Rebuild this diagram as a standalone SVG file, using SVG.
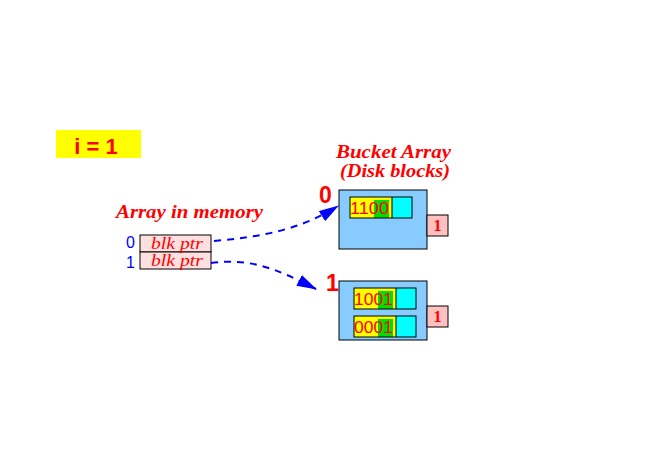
<svg xmlns="http://www.w3.org/2000/svg" width="657" height="470" viewBox="0 0 657 470">
<style>
.lbl{font-family:"Liberation Serif",serif;font-style:italic;font-weight:bold;fill:#ff0000}
.ptr{font-family:"Liberation Serif",serif;font-style:italic;fill:#ff0000;font-size:16px}
.tag{font-family:"Liberation Serif",serif;font-weight:bold;fill:#ff0000;font-size:16px}
.num{font-family:"Liberation Sans",sans-serif;font-weight:bold;fill:#ff0000}
.idx{font-family:"Liberation Sans",sans-serif;font-size:16px;fill:#0000ff}
.bits{font-family:"Liberation Sans",sans-serif;font-size:17px;fill:#ff0000}
.box{stroke:#000;stroke-width:1}
.conn{fill:none;stroke:#0000ff;stroke-width:2;stroke-dasharray:7,6}
</style>
<defs>
<marker id="ah" markerWidth="20" markerHeight="12" refX="19" refY="6" orient="auto" markerUnits="userSpaceOnUse" viewBox="0 0 20 12">
<path d="M0,0 L20,6 L0,12 Z" fill="#0000ff"/>
</marker>
</defs>
<rect width="657" height="470" fill="#fff"/>
<g id="global-depth">
<rect x="56" y="130" width="85" height="28" fill="#ffff00"/>
<text x="96" y="154" class="num" font-size="22" text-anchor="middle">i = 1</text>
</g>
<g id="title">
<text x="336" y="158" class="lbl" font-size="19" textLength="115" lengthAdjust="spacingAndGlyphs">Bucket Array</text>
<text x="340" y="177" class="lbl" font-size="19" textLength="110" lengthAdjust="spacingAndGlyphs">(Disk blocks)</text>
</g>
<g id="dir">
<text x="116" y="218" class="lbl" font-size="18" textLength="147" lengthAdjust="spacingAndGlyphs">Array in memory</text>
<rect x="140" y="235" width="71" height="17" fill="#ffe0e0" class="box"/>
<rect x="140" y="252" width="71" height="17" fill="#ffe0e0" class="box"/>
<text x="151" y="249" class="ptr" textLength="52" lengthAdjust="spacingAndGlyphs">blk ptr</text>
<text x="151" y="266" class="ptr" textLength="52" lengthAdjust="spacingAndGlyphs">blk ptr</text>
<text x="126" y="248" class="idx">0</text>
<text x="126" y="268" class="idx">1</text>
</g>
<g id="bucket0">
<text x="319" y="203" class="num" font-size="23">0</text>
<rect x="339" y="190" width="88" height="59" fill="#88ccff" class="box"/>
<rect x="350" y="197" width="42" height="21" fill="#ffff00"/>
<rect x="374" y="200" width="15" height="18" fill="#00dd00"/>
<rect x="392" y="197" width="20" height="21" fill="#00ffff"/>
<rect x="350" y="197" width="62" height="21" fill="none" class="box"/>
<line x1="392" y1="197" x2="392" y2="218" stroke="#000"/>
<text x="350" y="214" class="bits" textLength="39" lengthAdjust="spacingAndGlyphs">1100</text>
<rect x="427" y="215" width="21" height="21" fill="#ffc0c0" class="box"/>
<text x="437.5" y="231" class="tag" text-anchor="middle">1</text>
</g>
<g id="bucket1">
<text x="326" y="291" class="num" font-size="23">1</text>
<rect x="339" y="281" width="88" height="59" fill="#88ccff" class="box"/>
<rect x="354" y="288" width="42" height="21" fill="#ffff00"/>
<rect x="378" y="291" width="15" height="18" fill="#00dd00"/>
<rect x="396" y="288" width="20" height="21" fill="#00ffff"/>
<rect x="354" y="288" width="62" height="21" fill="none" class="box"/>
<line x1="396" y1="288" x2="396" y2="309" stroke="#000"/>
<text x="354" y="305" class="bits" textLength="39" lengthAdjust="spacingAndGlyphs">1001</text>
<rect x="354" y="316" width="42" height="21" fill="#ffff00"/>
<rect x="378" y="319" width="15" height="18" fill="#00dd00"/>
<rect x="396" y="316" width="20" height="21" fill="#00ffff"/>
<rect x="354" y="316" width="62" height="21" fill="none" class="box"/>
<line x1="396" y1="316" x2="396" y2="337" stroke="#000"/>
<text x="354" y="333" class="bits" textLength="39" lengthAdjust="spacingAndGlyphs">0001</text>
<rect x="427" y="306" width="21" height="21" fill="#ffc0c0" class="box"/>
<text x="437.5" y="322" class="tag" text-anchor="middle">1</text>
</g>
<g id="connectors">
<path class="conn" d="M214,241 C260,237 300,230 338,206" marker-end="url(#ah)"/>
<path class="conn" d="M211,263 C250,258 275,268 316,289" marker-end="url(#ah)"/>
</g>
</svg>
